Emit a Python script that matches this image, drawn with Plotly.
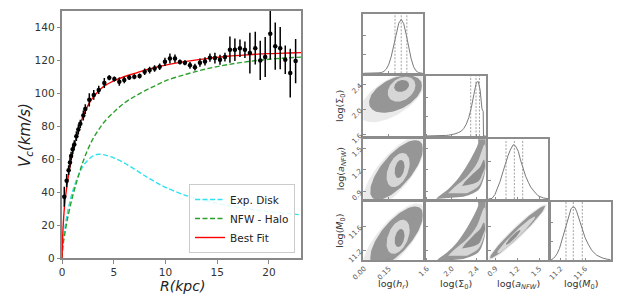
import numpy as np
import plotly.graph_objects as go

# ---------------- rotation curve data ----------------
R_KPC = [0.22, 0.45, 0.64, 0.77, 0.88, 1.03, 1.19, 1.39, 1.58, 1.77, 2.06, 2.25, 2.64,
         3.07, 3.55, 4.09, 4.57, 5.06, 5.54, 6.02, 6.50, 6.99, 7.50, 7.99, 8.47, 8.95,
         9.44, 9.95, 10.43, 10.92, 11.40, 11.88, 12.37, 12.85, 13.33, 13.82, 14.30,
         14.78, 15.27, 15.75, 16.23, 16.71, 17.20, 17.68, 18.16, 18.68, 19.16, 19.64,
         20.13, 20.61, 21.09, 21.58, 22.06, 22.58]
V_OBS = [37.3, 47, 53.4, 58, 62, 66, 69, 74, 78, 81.5, 86.5, 90.4, 96,
         99, 102, 106.2, 109.4, 108.6, 107, 108, 109.5, 110, 110.5, 113, 114, 115,
         116, 119, 121, 121, 118.9, 118.5, 116.9, 115.8, 118.5, 119.3, 121.5,
         121.3, 120.3, 121.9, 126.4, 126.4, 127.3, 126.4, 124.3, 127.3, 119.9, 121.9,
         136, 128.5, 127.3, 120.3, 112.2, 119.5]
V_ERR = [6, 4, 3, 3, 2.5, 3, 2.5, 3, 3, 2.5, 3, 3, 4,
         3, 2.5, 3, 1.5, 1.5, 2.5, 2, 1.5, 1.5, 1.5, 2, 2, 2,
         2, 2.5, 3, 2.5, 1.5, 1.5, 2, 2, 2.5, 2.5, 2.5,
         3.3, 3, 2.7, 7.9, 6.8, 5.3, 5, 12.4, 9.9, 11.9, 12.1,
         15.6, 14.3, 12.8, 8.6, 14.8, 13.4]

R_DISK = [0, 0.1, 0.25, 0.5, 1, 1.5, 2, 2.5, 3, 3.5, 4, 5, 6, 7, 8, 9, 10, 12, 14, 16, 18, 20, 22, 23.1]
V_DISK = [0, 9, 17, 27, 40, 49, 55.5, 59.5, 62, 63, 62.8, 60.8, 57.8, 54, 50, 46.3, 43, 38, 34.7, 32, 30, 28.3, 27, 26.3]

R_NFW = [0, 0.1, 0.25, 0.5, 1, 1.5, 2, 2.5, 3, 3.5, 4, 5, 6, 7, 8, 9, 10, 12, 14, 16, 18, 20, 22, 23.1]
V_NFW = [0, 8, 14, 23, 37, 48, 58, 66, 72.5, 77.5, 82, 88.5, 94, 98, 101.5, 104.5, 107.5, 111.5, 114.8, 117.3, 119.2, 120.6, 121.5, 121.9]

R_FIT = [0, 0.1, 0.25, 0.5, 0.75, 1, 1.25, 1.5, 1.75, 2, 2.5, 3, 3.5, 4, 5, 6, 7, 8, 10, 12, 14, 16, 18, 20, 22, 23.1]
V_FIT = [0, 18, 32, 45, 55, 63, 70, 76, 81, 85.5, 92.5, 97.5, 101, 104, 107.5, 110, 112, 114, 117, 119.3, 121, 122.4, 123.3, 124, 124.4, 124.6]

X_TICKS = [0, 5, 10, 15, 20]
Y_TICKS = [0, 20, 40, 60, 80, 100, 120, 140]

# ---------------- corner plot data ----------------
PARAM_LABELS = ["log(<i>h<sub>r</sub></i>)", "log(Σ<sub>0</sub>)",
                "log(<i>a<sub>NFW</sub></i>)", "log(<i>M</i><sub>0</sub>)"]
PARAM_RANGES = [(-0.005, 0.355), (1.58, 2.54), (0.80, 1.62), (11.04, 12.02)]
PARAM_TICKS = [[0.0, 0.15], [1.6, 2.0, 2.4], [0.9, 1.2, 1.5], [11.2, 11.6]]
PARAM_TICKTEXT = [["0.00", "0.15"], ["1.6", "2.0", "2.4"], ["0.9", "1.2", "1.5"], ["11.2", "11.6"]]
QUANTILES = [[0.187, 0.225, 0.259], [2.30, 2.385, 2.44], [1.042, 1.156, 1.27], [11.286, 11.406, 11.554]]

HIST_X = [
    [-0.005, 0.03, 0.06, 0.075, 0.09, 0.105, 0.12, 0.135, 0.15, 0.165, 0.18, 0.195, 0.21, 0.225,
     0.24, 0.255, 0.27, 0.285, 0.30, 0.315, 0.33, 0.345, 0.355],
    [1.58, 1.70, 1.80, 1.85, 1.90, 1.95, 2.00, 2.05, 2.10, 2.15, 2.19, 2.23, 2.27, 2.31,
     2.35, 2.39, 2.42, 2.45, 2.48, 2.50, 2.505, 2.54],
    [0.80, 0.82, 0.85, 0.89, 0.93, 0.96, 1.00, 1.03, 1.07, 1.10, 1.14, 1.17, 1.21, 1.24,
     1.28, 1.31, 1.35, 1.38, 1.42, 1.48, 1.55, 1.62],
    [11.04, 11.06, 11.08, 11.11, 11.14, 11.18, 11.22, 11.26, 11.30, 11.34, 11.37, 11.40,
     11.43, 11.46, 11.49, 11.52, 11.56, 11.60, 11.65, 11.71, 11.79, 11.88, 11.96, 12.02],
]
HIST_H = [
    [0, 0, 0.002, 0.004, 0.008, 0.015, 0.035, 0.08, 0.17, 0.32, 0.53, 0.75, 0.93, 1.0,
     0.92, 0.72, 0.48, 0.27, 0.12, 0.045, 0.012, 0.003, 0],
    [0, 0, 0.003, 0.006, 0.01, 0.015, 0.025, 0.04, 0.06, 0.09, 0.14, 0.22, 0.34, 0.52,
     0.76, 0.98, 1.0, 0.85, 0.5, 0.45, 0, 0],
    [0, 0, 0.01, 0.08, 0.2, 0.32, 0.5, 0.64, 0.8, 0.9, 1.0, 0.98, 0.88, 0.72,
     0.55, 0.42, 0.3, 0.22, 0.15, 0.06, 0.02, 0.005],
    [0, 0.01, 0.03, 0.07, 0.12, 0.22, 0.38, 0.55, 0.72, 0.88, 0.97, 1.0,
     0.99, 0.92, 0.82, 0.70, 0.55, 0.42, 0.3, 0.18, 0.09, 0.04, 0.015, 0.005],
]

# 2-D density summaries: (centre x, centre y, spread x, spread y, correlation)
# listed as [halo, outer cloud, light ring, inner core]
ELLIPSES = {
    (1, 0): [(0.17, 2.20, 0.20, 0.40, 0.6), (0.19, 2.25, 0.16, 0.30, 0.45),
             (0.227, 2.33, 0.084, 0.20, 0.3), (0.227, 2.38, 0.045, 0.096, 0.2)],
    (2, 0): [(0.18, 1.16, 0.19, 0.50, 0.75), (0.197, 1.198, 0.16, 0.41, 0.71),
             (0.206, 1.198, 0.07, 0.234, 0.4), (0.215, 1.212, 0.03, 0.124, 0.3)],
    (3, 0): [(0.18, 11.39, 0.19, 0.60, 0.75), (0.197, 11.44, 0.16, 0.50, 0.71),
             (0.206, 11.43, 0.07, 0.286, 0.4), (0.215, 11.41, 0.03, 0.151, 0.3)],
    (3, 2): [(1.2, 11.51, 0.40, 0.47, 0.96), (1.2, 11.51, 0.376, 0.44, 0.972),
             (1.18, 11.46, 0.26, 0.31, 0.974), (1.14, 11.42, 0.10, 0.125, 0.937)],
}
# curved (banana) regions: [outer cloud, light ring, inner core] as outline vertices
BANANA_SIG_X = [
    [2.18, 2.42, 2.50, 2.55, 2.56, 2.56, 2.42, 2.42, 2.26, 2.08, 1.92, 1.78, 1.75],
    [2.24, 2.42, 2.50, 2.55, 2.55, 2.52, 2.48, 2.40, 2.24, 2.05, 1.94],
    [2.16, 2.42, 2.49, 2.53, 2.51, 2.45, 2.34, 2.21],
]
BANANA_ANFW_Y = [
    [0.83, 0.92, 1.06, 1.29, 1.57, 1.64, 1.64, 1.57, 1.29, 1.06, 0.92, 0.83, 0.80],
    [0.88, 0.97, 1.11, 1.29, 1.47, 1.55, 1.47, 1.29, 1.11, 0.97, 0.88],
    [0.98, 1.04, 1.15, 1.24, 1.34, 1.24, 1.15, 1.04],
]
BANANA_M0_Y = [
    [11.055, 11.168, 11.336, 11.617, 11.958, 12.025, 12.025, 11.958, 11.617, 11.336, 11.168, 11.055, 11.016],
    [11.112, 11.223, 11.391, 11.617, 11.84, 11.924, 11.84, 11.617, 11.391, 11.223, 11.112],
    [11.235, 11.307, 11.449, 11.559, 11.672, 11.559, 11.449, 11.307],
]

# ---------------- layout helpers ----------------
W, H = 622, 307
FONT = "DejaVu Sans"


def xdom(a, b):
    return [a / W, b / W]


def ydom(top, bot):
    return [1 - bot / H, 1 - top / H]


COL_PX = [(363.3, 422.7), (425.7, 485.7), (488.3, 548.3), (551.0, 610.7)]
ROW_PX = [(14.0, 73.3), (76.0, 136.0), (139.3, 199.0), (201.7, 260.0)]

LEVEL_FILL = ["rgba(160,160,160,0.22)", "#969696", "#d6d6d6", "#8e8e8e"]
BANANA_FILL = ["#969696", "#d6d6d6", "#8e8e8e"]

fig = go.Figure()

# ---------------- left panel ----------------
fig.add_trace(go.Scatter(x=R_DISK, y=V_DISK, mode="lines", name="Exp. Disk",
                         line=dict(color="#2de3f0", width=1.4, dash="5px,2.5px", shape="spline"),
                         xaxis="x", yaxis="y"))
fig.add_trace(go.Scatter(x=R_NFW, y=V_NFW, mode="lines", name="NFW - Halo",
                         line=dict(color="#2ca02c", width=1.4, dash="5px,2.5px", shape="spline"),
                         xaxis="x", yaxis="y"))
fig.add_trace(go.Scatter(x=R_FIT, y=V_FIT, mode="lines", name="Best Fit",
                         line=dict(color="#ff0000", width=1.4, shape="spline"),
                         xaxis="x", yaxis="y"))
fig.add_trace(go.Scatter(x=R_KPC, y=V_OBS, mode="markers", showlegend=False,
                         marker=dict(color="black", size=4.5),
                         error_y=dict(type="data", array=V_ERR, color="black", thickness=1.5, width=0),
                         xaxis="x", yaxis="y"))

layout = dict(
    width=W, height=H, margin=dict(l=0, r=0, t=0, b=0, autoexpand=False),
    paper_bgcolor="white", plot_bgcolor="white",
    font=dict(family=FONT, color="#333"),
    showlegend=True,
    legend=dict(x=295 / W, y=1 - 253 / H, xanchor="right", yanchor="bottom",
                bgcolor="rgba(255,255,255,0.85)", bordercolor="#cccccc", borderwidth=1,
                font=dict(size=10.5, family=FONT, color="#222"), itemwidth=30,
                tracegroupgap=0),
    xaxis=dict(domain=xdom(62, 301), range=[0, 23.1], tickvals=X_TICKS,
               showline=True, mirror=True, linecolor="#888", linewidth=1.5,
               ticks="outside", ticklen=3.5, tickcolor="#888", showgrid=False, zeroline=False,
               tickfont=dict(size=10.5, family=FONT, color="#333"), anchor="y"),
    yaxis=dict(domain=ydom(10.7, 258.3), range=[0, 150], tickvals=Y_TICKS,
               showline=True, mirror=True, linecolor="#888", linewidth=1.5,
               ticks="outside", ticklen=3.5, tickcolor="#888", showgrid=False, zeroline=False,
               tickfont=dict(size=10.5, family=FONT, color="#333"), anchor="x"),
)

annotations = [
    dict(text="<i>V<sub>c</sub>(km/s)</i>", x=25 / W, y=1 - 135 / H, xref="paper", yref="paper",
         xanchor="center", yanchor="middle",
         textangle=-90, showarrow=False, font=dict(size=15, family=FONT, color="#222")),
    dict(text="<i>R(kpc)</i>", x=182 / W, y=1 - 286 / H, xref="paper", yref="paper",
         xanchor="center", yanchor="middle",
         showarrow=False, font=dict(size=14, family=FONT, color="#222")),
]

# ---------------- corner plot ----------------
n = 2
for r in range(4):
    for c in range(r + 1):
        xa, ya = f"x{n}", f"y{n}"
        common = dict(showline=True, mirror=True, linecolor="#8c8c8c", linewidth=1.5,
                      ticks="inside", ticklen=2.5, tickcolor="#8c8c8c", tickwidth=1,
                      showgrid=False, zeroline=False, tickangle=-45,
                      tickfont=dict(size=7, family=FONT, color="#555"))
        layout[f"xaxis{n}"] = dict(common, domain=xdom(*COL_PX[c]), range=list(PARAM_RANGES[c]),
                                   tickvals=PARAM_TICKS[c], ticktext=PARAM_TICKTEXT[c],
                                   showticklabels=(r == 3), anchor=ya)
        if r == c:
            layout[f"yaxis{n}"] = dict(common, domain=ydom(*ROW_PX[r]), range=[0, 1.1],
                                       tickvals=[0.35, 0.7], showticklabels=False, anchor=xa)
            fig.add_trace(go.Scatter(x=HIST_X[c], y=HIST_H[c], mode="lines", showlegend=False,
                                     line=dict(color="#7a7a7a", width=1), xaxis=xa, yaxis=ya))
            for q in QUANTILES[c]:
                fig.add_trace(go.Scatter(x=[q, q], y=[0, 1.1], mode="lines", showlegend=False,
                                         line=dict(color="#8a8a8a", width=0.8, dash="2px,1.5px"),
                                         xaxis=xa, yaxis=ya))
        else:
            layout[f"yaxis{n}"] = dict(common, domain=ydom(*ROW_PX[r]), range=list(PARAM_RANGES[r]),
                                       tickvals=PARAM_TICKS[r], ticktext=PARAM_TICKTEXT[r],
                                       showticklabels=(c == 0), anchor=xa)
            if (r, c) in ELLIPSES:
                t = np.linspace(0, 2 * np.pi, 90)
                for lvl, (cx, cy, sx, sy, rho) in enumerate(ELLIPSES[(r, c)]):
                    ex = cx + sx * np.cos(t)
                    ey = cy + sy * (rho * np.cos(t) + np.sqrt(1 - rho ** 2) * np.sin(t))
                    fig.add_trace(go.Scatter(x=ex, y=ey, mode="lines", fill="toself",
                                             fillcolor=LEVEL_FILL[lvl], line=dict(width=0),
                                             showlegend=False, hoverinfo="skip",
                                             xaxis=xa, yaxis=ya))
            else:
                ys = BANANA_ANFW_Y if r == 2 else BANANA_M0_Y
                for lvl in range(3):
                    fig.add_trace(go.Scatter(x=BANANA_SIG_X[lvl], y=ys[lvl], mode="lines",
                                             fill="toself", fillcolor=BANANA_FILL[lvl],
                                             line=dict(width=0, shape="spline"),
                                             showlegend=False, hoverinfo="skip",
                                             xaxis=xa, yaxis=ya))
        n += 1

for c in range(4):
    annotations.append(dict(text=PARAM_LABELS[c], x=(COL_PX[c][0] + COL_PX[c][1]) / 2 / W,
                            y=1 - 284 / H, xref="paper", yref="paper", showarrow=False,
                            xanchor="center", yanchor="middle",
                            font=dict(size=9.5, family=FONT, color="#333")))
for r in range(1, 4):
    annotations.append(dict(text=PARAM_LABELS[r], x=341 / W,
                            y=1 - (ROW_PX[r][0] + ROW_PX[r][1]) / 2 / H, xref="paper", yref="paper",
                            xanchor="center", yanchor="middle",
                            textangle=-90, showarrow=False,
                            font=dict(size=9.5, family=FONT, color="#333")))

layout["annotations"] = annotations
fig.update_layout(**layout)
fig.write_html("out.html", config={"displayModeBar": False},
               post_script="document.body.style.margin='0';")
